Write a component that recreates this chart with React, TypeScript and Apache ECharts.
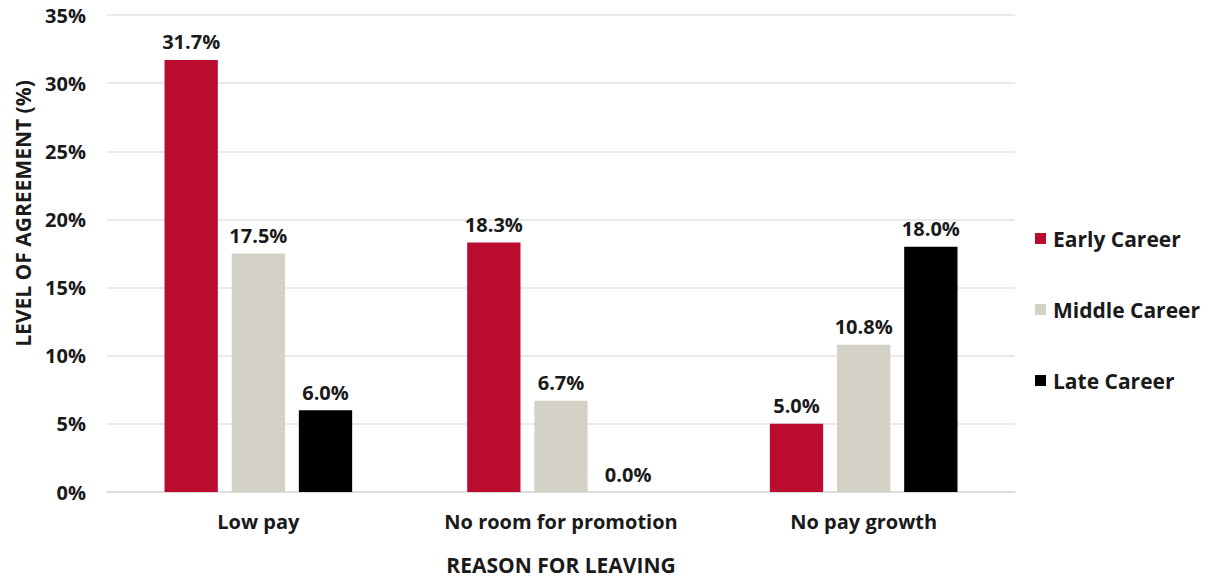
import React, { useEffect, useRef } from "react";
import * as echarts from "echarts";

const categories = ["Low pay", "No room for promotion", "No pay growth"];
const seriesNames = ["Early Career", "Middle Career", "Late Career"];
const earlyCareer = [31.7, 18.3, 5.0];
const middleCareer = [17.5, 6.7, 10.8];
const lateCareer = [6.0, 0.0, 18.0];
const colors = ["#BA0C2F", "#D4D1C6", "#000000"];

export default function App() {
  const ref = useRef<HTMLDivElement>(null);
  useEffect(() => {
    if (!ref.current) return;
    const chart = echarts.init(ref.current, null, { renderer: "svg" });
    const font = "'Open Sans', 'Noto Sans', sans-serif";
    const data = [earlyCareer, middleCareer, lateCareer];
    chart.setOption({
      animation: false,
      textStyle: { fontFamily: font },
      grid: { left: 107, right: 193, top: 15, bottom: 87, outerBoundsMode: "none", containLabel: false },
      legend: {
        orient: "vertical",
        left: 1030,
        top: 223,
        itemWidth: 11,
        itemHeight: 11,
        itemGap: 50,
        icon: "rect",
        data: seriesNames,
        textStyle: { fontSize: 21, fontWeight: "bold", color: "#1a1a1a", fontFamily: font, padding: [0, 0, 0, 2] },
      },
      xAxis: {
        type: "category",
        data: categories,
        name: "REASON FOR LEAVING",
        nameLocation: "middle",
        nameGap: 62,
        nameTextStyle: { fontSize: 21, lineHeight: 22, fontWeight: "bold", color: "#1a1a1a", fontFamily: font },
        axisLine: { show: true, lineStyle: { color: "#d9d9d9", width: 1.5 } },
        axisTick: { show: false },
        axisLabel: {
          interval: 0,
          hideOverlap: false,
          fontSize: 20,
          fontWeight: "bold",
          color: "#1a1a1a",
          margin: 19,
          fontFamily: font,
        },
      },
      yAxis: {
        type: "value",
        min: 0,
        max: 35,
        interval: 5,
        name: "LEVEL OF AGREEMENT (%)",
        nameLocation: "middle",
        nameGap: 74,
        nameRotate: 90,
        nameTextStyle: {
          fontSize: 21,
          fontWeight: "bold",
          color: "#1a1a1a",
          fontFamily: font,
          padding: [0, 0, 0, 80],
        },
        axisLine: { show: false },
        axisTick: { show: false },
        axisLabel: {
          formatter: "{value}%",
          fontSize: 20,
          fontWeight: "bold",
          color: "#1a1a1a",
          margin: 21,
          fontFamily: font,
        },
        splitLine: { lineStyle: { color: "#e3e3e3", width: 1.5 } },
      },
      series: seriesNames.map((name, i) => ({
        name,
        type: "bar",
        data: data[i],
        barCategoryGap: "38%",
        barGap: "26%",
        itemStyle: { color: colors[i] },
        label: {
          show: true,
          position: "top",
          distance: 8,
          formatter: (p: any) => Number(p.value).toFixed(1) + "%",
          fontSize: 20,
          fontWeight: "bold",
          color: "#1a1a1a",
          fontFamily: font,
        },
      })),
    });
    return () => chart.dispose();
  }, []);
  return (
    <div
      ref={ref}
      style={{ position: "absolute", left: 0, top: 0, width: 1208, height: 579 }}
    />
  );
}
